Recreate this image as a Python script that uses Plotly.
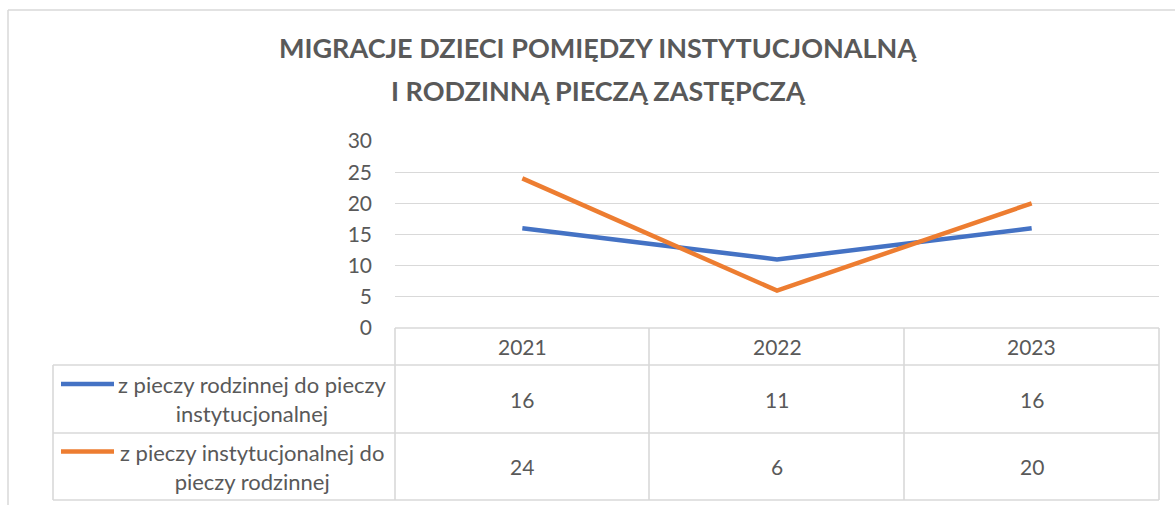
import plotly.graph_objects as go

W, H = 1175, 505

years = ["2021", "2022", "2023"]
series_names = ["z pieczy rodzinnej do pieczy<br>instytucjonalnej",
                "z pieczy instytucjonalnej do<br>pieczy rodzinnej"]
blue_vals = [16, 11, 16]
orange_vals = [24, 6, 20]
series_vals = [blue_vals, orange_vals]
colors = ["#4472C4", "#ED7D31"]
title_lines = ["MIGRACJE DZIECI POMIĘDZY INSTYTUCJONALNĄ", "I RODZINNĄ PIECZĄ ZASTĘPCZĄ"]
y_ticks = [0, 5, 10, 15, 20, 25, 30]

FONT = "Lato"
TXT = "#595959"
GRID = "#D9D9D9"
FS = 21

def px(x):
    return x / W

def py(y):
    return 1 - y / H

# layout geometry (pixels)
plot_l, plot_r = 395, 1159
plot_top, plot_bot = 141, 328
tab_l = 53
row_edges = [328, 365, 433, 500]
col_edges = [395, 649, 904, 1159]

fig = go.Figure()
for name, vals, c in zip(series_names, series_vals, colors):
    fig.add_trace(go.Scatter(x=list(range(len(years))), y=vals, mode="lines", name=name,
                             line=dict(color=c, width=4.5), showlegend=False, hoverinfo="skip"))

shapes = []
# outer chart frame
shapes.append(dict(type="line", xref="paper", yref="paper", x0=px(8), x1=px(8), y0=py(10), y1=py(H + 5),
                   line=dict(color=GRID, width=1.5)))
shapes.append(dict(type="line", xref="paper", yref="paper", x0=px(8), x1=px(W + 5), y0=py(10), y1=py(10),
                   line=dict(color=GRID, width=1.5)))
# table horizontal lines
for i, ry in enumerate(row_edges):
    x0 = plot_l if i == 0 else tab_l
    shapes.append(dict(type="line", xref="paper", yref="paper", x0=px(x0), x1=px(plot_r), y0=py(ry), y1=py(ry),
                       line=dict(color=GRID, width=1.6)))
# table vertical lines
for cx in col_edges:
    shapes.append(dict(type="line", xref="paper", yref="paper", x0=px(cx), x1=px(cx), y0=py(row_edges[0]), y1=py(row_edges[-1]),
                       line=dict(color=GRID, width=1.6)))
shapes.append(dict(type="line", xref="paper", yref="paper", x0=px(tab_l), x1=px(tab_l), y0=py(row_edges[1]), y1=py(row_edges[-1]),
                   line=dict(color=GRID, width=1.6)))

annotations = []
# title
for line, yy in zip(title_lines, [48, 91]):
    annotations.append(dict(text="<b>%s</b>" % line, xref="paper", yref="paper", x=px(598), y=py(yy),
                            showarrow=False, xanchor="center", yanchor="middle",
                            font=dict(family=FONT, size=27, color=TXT)))
# header years
for i, yr in enumerate(years):
    annotations.append(dict(text=yr, xref="x", yref="paper", x=i, y=py((row_edges[0] + row_edges[1]) / 2),
                            showarrow=False, xanchor="center", yanchor="middle",
                            font=dict(family=FONT, size=FS, color=TXT)))
# rows
for r, (name, vals, c) in enumerate(zip(series_names, series_vals, colors)):
    yc = (row_edges[r + 1] + row_edges[r + 2]) / 2
    for i, v in enumerate(vals):
        annotations.append(dict(text=str(v), xref="x", yref="paper", x=i, y=py(yc),
                                showarrow=False, xanchor="center", yanchor="middle",
                                font=dict(family=FONT, size=FS, color=TXT)))
    annotations.append(dict(text=name, xref="paper", yref="paper", x=px(252), y=py(yc),
                            showarrow=False, xanchor="center", yanchor="middle", align="center",
                            font=dict(family=FONT, size=22, color=TXT)))
    shapes.append(dict(type="line", xref="paper", yref="paper", x0=px(61), x1=px(114), y0=py(yc - 15), y1=py(yc - 15),
                       line=dict(color=c, width=4.5)))

fig.update_layout(
    width=W, height=H,
    margin=dict(l=0, r=0, t=0, b=0, pad=0, autoexpand=False),
    paper_bgcolor="white", plot_bgcolor="white",
    shapes=shapes, annotations=annotations,
    xaxis=dict(domain=[px(plot_l), px(plot_r)], range=[-0.5, 2.5], automargin=False,
               showticklabels=False, showgrid=False, zeroline=False, showline=False),
    yaxis=dict(domain=[py(plot_bot), py(plot_top)], range=[0, 30], tickvals=y_ticks, automargin=False,
               showgrid=True, gridcolor=GRID, gridwidth=1.3, zeroline=False, showline=False,
               ticklabelstandoff=22,
               tickfont=dict(family=FONT, size=FS, color=TXT)),
)

fig.write_html("out.html", config={"displayModeBar": False},
               post_script="document.body.style.margin='0';")
